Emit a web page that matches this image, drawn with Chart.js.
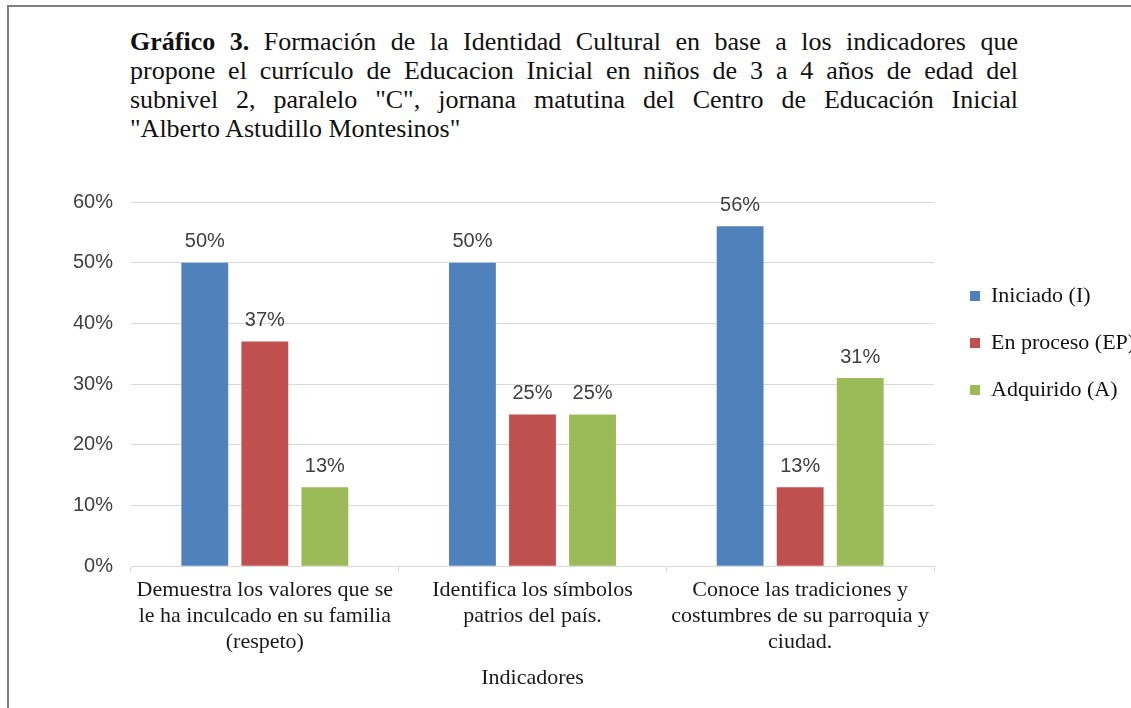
<!DOCTYPE html>
<html>
<head>
<meta charset="utf-8">
<script src="https://cdn.jsdelivr.net/npm/chart.js@4.4.0/dist/chart.umd.min.js"></script>
<style>
  html, body { margin: 0; padding: 0; background: #fff; }
  body { width: 1131px; height: 708px; overflow: hidden; position: relative; }
  .frame {
    position: absolute; left: 7px; top: 5px; width: 1200px; height: 800px;
    border-top: 2px solid #7f7f7f; border-left: 2px solid #7f7f7f;
  }
  .title {
    position: absolute; left: 130px; top: 27px; width: 888px;
    font-family: 'Liberation Serif', 'Times New Roman', serif;
    font-size: 26px; line-height: 29px; color: #111;
  }
  .title div { white-space: nowrap; text-align: justify; text-align-last: justify; }
  .title div.last { text-align-last: left; }
  .chartBox { position: absolute; left: 0; top: 170px; width: 1134px; height: 530px; }
</style>
</head>
<body>
<div class="frame"></div>
<div class="title">
  <div><b>Gráfico 3.</b> Formación de la Identidad Cultural en base a los indicadores que</div>
  <div>propone el currículo de Educacion Inicial en niños de 3 a 4 años de edad del</div>
  <div>subnivel 2, paralelo "C", jornana matutina del Centro de Educación Inicial</div>
  <div class="last">"Alberto Astudillo Montesinos"</div>
</div>
<div class="chartBox"><canvas id="indicadoresChart" width="1134" height="530"></canvas></div>
<script>
let indicadores = [
  ['Demuestra los valores que se', 'le ha inculcado en su familia', '(respeto)'],
  ['Identifica los símbolos', 'patrios del país.'],
  ['Conoce las tradiciones y', 'costumbres de su parroquia y', 'ciudad.'],
];
let iniciado = [50, 50, 56];
let enProceso = [37, 25, 13];
let adquirido = [13, 25, 31];

let serif = "'Liberation Serif', 'Times New Roman', serif";
let sans = "'Liberation Sans', Arial, sans-serif";

// draws the % value above each bar
let valueLabels = {
  id: 'valueLabels',
  afterDatasetsDraw(chart) {
    let ctx = chart.ctx;
    ctx.save();
    ctx.font = '20px ' + sans;
    ctx.fillStyle = '#404040';
    ctx.textAlign = 'center';
    ctx.textBaseline = 'middle';
    chart.data.datasets.forEach((ds, i) => {
      chart.getDatasetMeta(i).data.forEach((bar, j) => {
        ctx.fillText(ds.data[j] + '%', bar.x, bar.y - 21);
      });
    });
    ctx.restore();
  },
};

let ctx = document.getElementById('indicadoresChart').getContext('2d');

new Chart(ctx, {
  type: 'bar',
  data: {
    labels: indicadores,
    datasets: [
      { label: 'Iniciado (I)', data: iniciado, backgroundColor: '#4F81BD' },
      { label: 'En proceso (EP)', data: enProceso, backgroundColor: '#C0504D' },
      { label: 'Adquirido (A)', data: adquirido, backgroundColor: '#9BBB59' },
    ],
  },
  plugins: [valueLabels],
  options: {
    responsive: false,
    animation: false,
    datasets: {
      bar: { categoryPercentage: 0.673, barPercentage: 0.78 },
    },
    layout: { padding: { top: 32, bottom: 9, left: 0, right: 0 } },
    plugins: {
      title: { display: false },
      tooltip: { enabled: false },
      legend: {
        position: 'right',
        align: 'start',
        title: { display: true, text: ' ', font: { size: 10 }, padding: { top: 46, bottom: 0 } },
        labels: {
          boxWidth: 10,
          boxHeight: 10,
          padding: 25,
          color: '#111',
          font: { family: serif, size: 22 },
        },
      },
    },
    scales: {
      x: {
        grid: {
          offset: true,
          drawOnChartArea: false,
          drawTicks: true,
          tickLength: 6,
          color: '#d9d9d9',
        },
        border: { display: true, color: '#d9d9d9' },
        ticks: {
          maxRotation: 0,
          autoSkip: false,
          padding: 5,
          color: '#1a1a1a',
          font: { family: serif, size: 22, lineHeight: 1.18 },
        },
        title: {
          display: true,
          text: 'Indicadores',
          color: '#1a1a1a',
          font: { family: serif, size: 22, lineHeight: 1.18 },
          padding: { top: 5, bottom: 0 },
        },
      },
      y: {
        min: 0,
        max: 60,
        afterFit: (scale) => { scale.width = 131; },
        grid: { color: '#d9d9d9', drawTicks: false },
        border: { display: false },
        ticks: {
          stepSize: 10,
          padding: 18,
          color: '#404040',
          font: { family: sans, size: 20 },
          callback: (value) => value + '%',
        },
      },
      gap: {
        position: 'right',
        display: true,
        afterFit: (scale) => { scale.width = 11; },
        grid: { drawOnChartArea: false, drawTicks: false },
        border: { display: false },
        ticks: { display: false },
      },
    },
  },
});
</script>
</body>
</html>
